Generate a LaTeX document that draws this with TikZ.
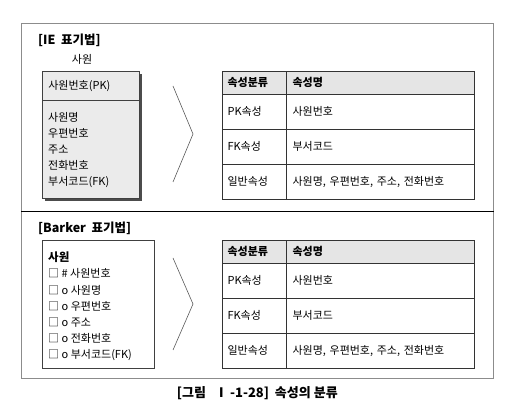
\documentclass[tikz,border=0pt]{standalone}
\usepackage{fontspec}
\setmainfont{Noto Sans CJK KR}
\usetikzlibrary{matrix,shadows,positioning}

\begin{document}
\begin{tikzpicture}[x=1pt,y=-1pt,
  every node/.style={font=\fontsize{11}{12}\selectfont, inner sep=0pt},
  frame/.style={draw=black!45, line width=0.7pt, anchor=north west},
  title/.style={font=\fontsize{12.5}{14}\selectfont\bfseries, anchor=west},
  entity/.style={draw=black!75, line width=0.7pt, anchor=north west},
  chev/.style={draw=black!65, line width=0.6pt},
  attrtab/.style={matrix of nodes, anchor=north west, inner sep=0pt,
    row sep=-0.7pt, column sep=-0.7pt,
    nodes={draw=black!80, line width=0.7pt, anchor=center, minimum height=35pt,
      text height=8.5pt, text depth=2.5pt, inner xsep=5pt},
    column 1/.style={nodes={text width=54pt}},
    column 2/.style={nodes={text width=176pt, inner xsep=6pt}},
    row 1/.style={nodes={fill=black!10, minimum height=23pt, font=\fontsize{11}{12}\selectfont\bfseries}}}
]
\useasboundingbox (0,0) rectangle (514,411);

% outer frame and the line between the two notations
\node[frame, minimum width=472, minimum height=355] (frm) at (21,23) {};
\coordinate (mid) at (0,212);
\draw[line width=1pt] (frm.west |- mid) -- (frm.east |- mid);

% IE notation
\node[title] (ietitle) at (38,40) {[IE~~표기법]};
\node (iename) at (82,59) {사원};
\node[entity, fill=black!8, minimum width=97, minimum height=127,
  drop shadow={shadow xshift=2.5pt, shadow yshift=-2.5pt, fill=black!70, opacity=1}] (iebox) at (42,71) {};
\node[entity, minimum width=97, minimum height=29, text width=85, inner xsep=6pt] (iepk) at (iebox.north west) {사원번호(PK)};
\foreach \t [count=\i] in {사원명,우편번호,주소,전화번호,부서코드(FK)}
  \node[anchor=west] (iea\i) at (48,100.8+16.2*\i) {\t};

\draw[chev] (173,86) -- (193,134) -- (173,182);

\matrix[attrtab] (ietab) at (222,71) {
  속성분류 & 속성명 \\
  PK속성 & 사원번호 \\
  FK속성 & 부서코드 \\
  일반속성 & 사원명, 우편번호, 주소, 전화번호 \\
};

% Barker notation
\node[title] (bktitle) at (38,228) {[Barker~~표기법]};
\node[entity, minimum width=112, minimum height=128] (bkbox) at (42,240) {};
\node[anchor=west, font=\fontsize{11.5}{12}\selectfont\bfseries] (bkname) at (48,257.5) {사원};
\foreach \t [count=\i] in {\# 사원번호,o 사원명,o 우편번호,o 주소,o 전화번호,o 부서코드(FK)}
  \node[anchor=west] (bka\i) at (48,257.5+16.2*\i) {□ \t};

\draw[chev] (173,258) -- (193,304) -- (173,350);

\matrix[attrtab] (bktab) at (222,240) {
  속성분류 & 속성명 \\
  PK속성 & 사원번호 \\
  FK속성 & 부서코드 \\
  일반속성 & 사원명, 우편번호, 주소, 전화번호 \\
};

\node[below=8pt of frm, font=\fontsize{13}{15}\selectfont\bfseries] (cap) {[그림~~~Ⅰ\,-1-28]~~속성의~분류};
\end{tikzpicture}
\end{document}
